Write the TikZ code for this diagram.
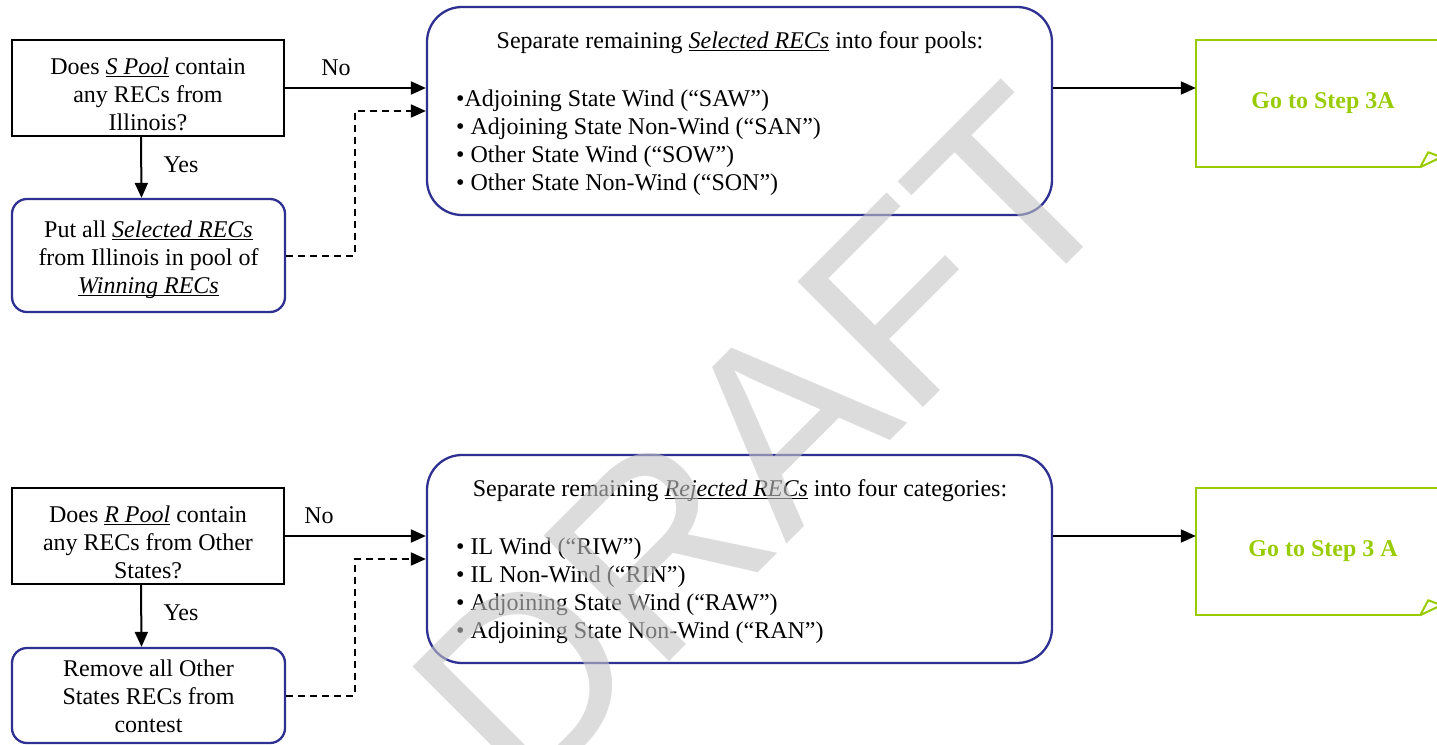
\documentclass[tikz,border=0pt]{standalone}
\usepackage{fontspec}
\setmainfont{Liberation Serif}
\newfontfamily\wmfont{Liberation Sans}
\newcommand{\myul}[1]{\setbox0\hbox{#1}\rlap{\rule[-2.6pt]{\wd0}{1.2pt}}\box0\relax}
\usetikzlibrary{arrows.meta,calc}
\definecolor{boxblue}{RGB}{46,49,146}
\definecolor{stepgreen}{RGB}{153,204,0}
\definecolor{wmgray}{RGB}{197,197,197}
\begin{document}
\begin{tikzpicture}[x=1pt,y=-1pt,
  txt/.style={font=\fontsize{24}{28}\selectfont, inner sep=0pt},
  qbox/.style={draw=black, line width=2pt, minimum width=272pt, minimum height=96pt, inner sep=0pt},
  abox/.style={draw=boxblue, line width=2.3pt, rounded corners=15pt, minimum width=273pt, inner sep=0pt},
  bbox/.style={draw=boxblue, line width=2.3pt, rounded corners=35pt, minimum width=625pt, minimum height=208pt, inner sep=0pt},
  gbox/.style={minimum width=254pt, minimum height=127pt, inner sep=0pt},
  gline/.style={draw=stepgreen, line width=2.5pt},
  arr/.style={line width=2pt, -{Triangle[length=15pt,width=13pt]}},
  darr/.style={arr, dash pattern=on 7pt off 5pt},
  gtext/.style={font=\fontsize{24}{28}\selectfont\bfseries, text=stepgreen, inner sep=0pt},
]
\useasboundingbox (0,0) rectangle (1437,744);
\clip (0,0) rectangle (1437,744);

% ---------- top row ----------
\node[qbox] (q1) at (148,88) {};
\node[txt, align=center, anchor=north] (q1t) at (148,54.4)
  {Does \myul{\textit{S Pool}} contain\strut\\any RECs from\strut\\Illinois?\strut};
\node[abox, minimum height=113pt] (a1) at (148.5,255.5) {};
\node[txt, align=center, anchor=north] (a1t) at (148.5,217.4)
  {Put all \myul{\textit{Selected RECs}}\strut\\from Illinois in pool of\strut\\\myul{\textit{Winning RECs}}\strut};
\node[bbox] (b1) at (739.5,111) {};
\node[txt, anchor=north] (b1t) at (740,29)
  {Separate remaining \myul{\textit{Selected RECs}} into four pools:\strut};
\node[txt, align=left, anchor=north west] (b1l) at (456,86.4)
  {•Adjoining State Wind (“SAW”)\strut\\• Adjoining State Non-Wind (“SAN”)\strut\\• Other State Wind (“SOW”)\strut\\• Other State Non-Wind (“SON”)\strut};
\node[gbox] (g1) at (1323,103.5) {};
\node[gtext, anchor=base] (g1t) at (1323,108) {Go to Step 3A};
\draw[gline] ([xshift=-30pt]g1.south east) -- (g1.south west) -- (g1.north west) -- (g1.north east) -- ([yshift=30pt]g1.south east);
\draw[gline, line width=2pt, line join=round] ([xshift=-30pt]g1.south east) -- ([xshift=-22pt,yshift=15pt]g1.south east) -- ([xshift=-9pt,yshift=10pt]g1.south east) -- cycle;

\node[txt, anchor=base] (no1) at (336,75) {No};
\node[txt, anchor=base] (yes1) at (181,172) {Yes};
\draw[arr] (q1.east) -- (q1.east -| b1.west);
\draw[arr] ([xshift=-7pt]q1.south) -- ([xshift=-7pt]a1.north);
\draw[darr] (a1.east) -| ([xshift=-71pt]b1.west) -- (b1.west);
\draw[arr] (b1.east |- q1.east) -- (g1.west |- q1.east);

% ---------- bottom row ----------
\node[qbox] (q2) at (148,536) {};
\node[txt, align=center, anchor=north] (q2t) at (148,502.4)
  {Does \myul{\textit{R Pool}} contain\strut\\any RECs from Other\strut\\States?\strut};
\node[abox, minimum height=95pt] (a2) at (148.5,695.5) {};
\node[txt, align=center, anchor=north] (a2t) at (148.5,656.4)
  {Remove all Other\strut\\States RECs from\strut\\contest\strut};
\node[bbox] (b2) at (739.5,559) {};
\node[txt, anchor=north] (b2t) at (740,477)
  {Separate remaining \myul{\textit{Rejected RECs}} into four categories:\strut};
\node[txt, align=left, anchor=north west] (b2l) at (456,534.4)
  {• IL Wind (“RIW”)\strut\\• IL Non-Wind (“RIN”)\strut\\• Adjoining State Wind (“RAW”)\strut\\• Adjoining State Non-Wind (“RAN”)\strut};
\node[gbox] (g2) at (1323,551.5) {};
\node[gtext, anchor=base] (g2t) at (1323,556) {Go to Step 3 A};
\draw[gline] ([xshift=-30pt]g2.south east) -- (g2.south west) -- (g2.north west) -- (g2.north east) -- ([yshift=30pt]g2.south east);
\draw[gline, line width=2pt, line join=round] ([xshift=-30pt]g2.south east) -- ([xshift=-22pt,yshift=15pt]g2.south east) -- ([xshift=-9pt,yshift=10pt]g2.south east) -- cycle;

\node[txt, anchor=base] (no2) at (319,523) {No};
\node[txt, anchor=base] (yes2) at (181,620) {Yes};
\draw[arr] (q2.east) -- (q2.east -| b2.west);
\draw[arr] ([xshift=-7pt]q2.south) -- ([xshift=-7pt]a2.north);
\draw[darr] (a2.east) -| ([xshift=-71pt]b2.west) -- (b2.west);
\draw[arr] (b2.east |- q2.east) -- (g2.west |- q2.east);

% ---------- watermark ----------
\node[font=\wmfont\fontsize{258}{258}\selectfont, text=wmgray, text opacity=0.6, rotate=45, anchor=base west, inner sep=0pt] (wm) at (523,808) {DRAFT};
\end{tikzpicture}
\end{document}
